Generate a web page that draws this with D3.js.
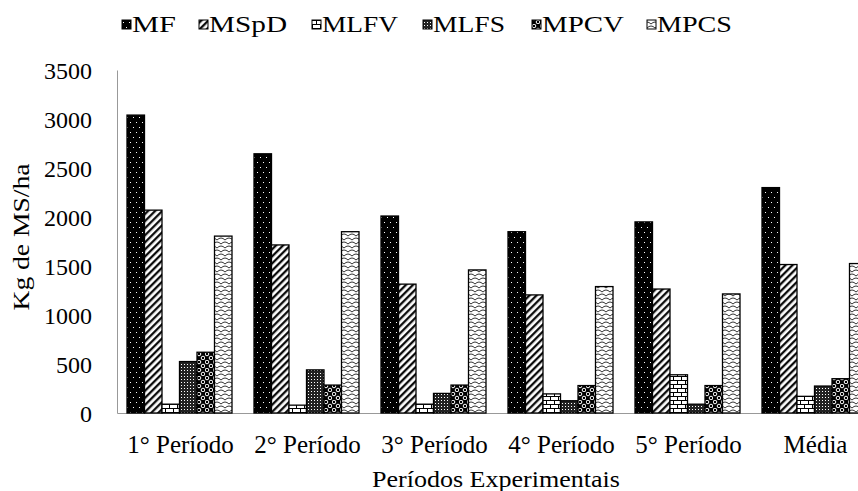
<!DOCTYPE html>
<html>
<head>
<meta charset="utf-8">
<script src="https://cdn.jsdelivr.net/npm/d3@7"></script>
<style>
  body { margin: 0; background: #fff; }
  svg text { font-family: "Liberation Serif", "Times New Roman", serif; fill: #000; }
</style>
</head>
<body>
<script>
// dados
var periodos = ["1° Período", "2° Período", "3° Período", "4° Período", "5° Período", "Média"];
var series = ["MF", "MSpD", "MLFV", "MLFS", "MPCV", "MPCS"];
var MF   = [3040, 2645, 2010, 1850, 1950, 2300];
var MSpD = [2070, 1715, 1315, 1205, 1265, 1515];
var MLFV = [90, 80, 90, 195, 390, 170];
var MLFS = [525, 440, 200, 125, 90, 275];
var MPCV = [620, 285, 285, 280, 280, 350];
var MPCS = [1805, 1850, 1460, 1290, 1215, 1525];
var yTicks = [0, 500, 1000, 1500, 2000, 2500, 3000, 3500];

var valores = {MF: MF, MSpD: MSpD, MLFV: MLFV, MLFS: MLFS, MPCV: MPCV, MPCS: MPCS};

var width = 858, height = 491;
var svg = d3.select("body").append("svg")
    .attr("width", width)
    .attr("height", height);

// padroes de preenchimento (estilo excel p&b)
var defs = svg.append("defs");

var p = defs.append("pattern").attr("id", "pMF").attr("patternUnits", "userSpaceOnUse")
    .attr("width", 6).attr("height", 10);
p.append("rect").attr("width", 6).attr("height", 10).attr("fill", "#000");
p.append("rect").attr("x", 1).attr("y", 2).attr("width", 1).attr("height", 1).attr("fill", "#fff");
p.append("rect").attr("x", 4).attr("y", 7).attr("width", 1).attr("height", 1).attr("fill", "#fff");

p = defs.append("pattern").attr("id", "pMSpD").attr("patternUnits", "userSpaceOnUse")
    .attr("width", 5).attr("height", 5).attr("patternTransform", "rotate(45)");
p.append("rect").attr("width", 5).attr("height", 5).attr("fill", "#fff");
p.append("line").attr("x1", 1.2).attr("y1", 0).attr("x2", 1.2).attr("y2", 5)
    .attr("stroke", "#000").attr("stroke-width", 2.2);

p = defs.append("pattern").attr("id", "pMLFV").attr("patternUnits", "userSpaceOnUse")
    .attr("width", 8).attr("height", 8);
p.append("rect").attr("width", 8).attr("height", 8).attr("fill", "#fff");
p.append("path").attr("d", "M0,0.5H8M0,4.5H8M0.5,0.5V4.5M4.5,4.5V8")
    .attr("stroke", "#000").attr("stroke-width", 1).attr("fill", "none");

p = defs.append("pattern").attr("id", "pMLFS").attr("patternUnits", "userSpaceOnUse")
    .attr("width", 3).attr("height", 3);
p.append("rect").attr("width", 3).attr("height", 3).attr("fill", "#222");
p.append("rect").attr("x", 1).attr("y", 1).attr("width", 1).attr("height", 1).attr("fill", "#fff");

p = defs.append("pattern").attr("id", "pMPCV").attr("patternUnits", "userSpaceOnUse")
    .attr("width", 8).attr("height", 8);
p.append("rect").attr("width", 8).attr("height", 8).attr("fill", "#000");
[[2, 2], [6, 6]].forEach(function(c) {
  p.append("circle").attr("cx", c[0]).attr("cy", c[1]).attr("r", 1.8)
      .attr("fill", "none").attr("stroke", "#fff").attr("stroke-width", 1);
});

// escamas
p = defs.append("pattern").attr("id", "pMPCS").attr("patternUnits", "userSpaceOnUse")
    .attr("width", 8).attr("height", 8);
p.append("rect").attr("width", 8).attr("height", 8).attr("fill", "#fff");
p.append("path")
    .attr("d", "M0,4 Q4,0 8,4 M-4,8 Q0,4 4,8 M4,8 Q8,4 12,8 M-4,0 Q0,-4 4,0 M4,0 Q8,-4 12,0")
    .attr("stroke", "#000").attr("stroke-width", 0.8).attr("fill", "none");

// escalas
var x0 = d3.scaleBand().domain(periodos).range([117, 117 + 6 * 127]).padding(0);
var x1 = d3.scaleBand().domain(series).range([10, 115]).padding(0);
var y = d3.scaleLinear().domain([0, 3500]).range([413, 70]);

// eixos
var yAxis = d3.axisLeft(y).tickValues(yTicks).tickFormat(d3.format("d")).tickSize(0).tickPadding(25);
var gy = svg.append("g").attr("transform", "translate(117,0)").call(yAxis)
    .attr("font-family", null);
gy.select(".domain").attr("stroke", "#999");
gy.selectAll("text").attr("font-size", 24).attr("dy", "0.34em");

var xAxis = d3.axisBottom(x0).tickSize(0).tickPadding(22);
var gx = svg.append("g").attr("transform", "translate(0,413)").call(xAxis)
    .attr("font-family", null);
gx.select(".domain").attr("stroke", "#999");
gx.selectAll("text").attr("font-size", 25);

// barras
var grupos = svg.selectAll(".grupo").data(periodos).enter().append("g")
    .attr("transform", function(d) { return "translate(" + x0(d) + ",0)"; });

grupos.selectAll("rect").data(function(d, i) {
    return series.map(function(s) { return {s: s, v: valores[s][i]}; });
  }).enter().append("rect")
    .attr("x", function(d) { return x1(d.s); })
    .attr("y", function(d) { return y(d.v); })
    .attr("width", x1.bandwidth())
    .attr("height", function(d) { return y(0) - y(d.v); })
    .attr("fill", function(d) { return "url(#p" + d.s + ")"; })
    .attr("stroke", "#000").attr("stroke-width", 1.3);

// legenda
var legX = [122, 199, 312, 423, 532, 647];
var legW = [44, 78, 76, 72, 82, 75];
var leg = svg.selectAll(".leg").data(series).enter().append("g")
    .attr("transform", function(d, i) { return "translate(" + legX[i] + ",0)"; });
leg.append("rect").attr("x", 0).attr("y", 20).attr("width", 9).attr("height", 9)
    .attr("fill", function(d) { return "url(#p" + d + ")"; })
    .attr("stroke", "#000").attr("stroke-width", 1);
leg.append("text").attr("x", 10).attr("y", 32).attr("font-size", 23)
    .attr("textLength", function(d, i) { return legW[i]; })
    .attr("lengthAdjust", "spacingAndGlyphs")
    .text(function(d) { return d; });

// titulos
svg.append("text").attr("x", 496).attr("y", 487).attr("text-anchor", "middle")
    .attr("font-size", 23).attr("textLength", 248).attr("lengthAdjust", "spacingAndGlyphs")
    .text("Períodos Experimentais");
svg.append("text").attr("transform", "translate(29,237) rotate(-90)")
    .attr("text-anchor", "middle").attr("font-size", 23)
    .attr("textLength", 147).attr("lengthAdjust", "spacingAndGlyphs")
    .text("Kg de MS/ha");
</script>
</body>
</html>
